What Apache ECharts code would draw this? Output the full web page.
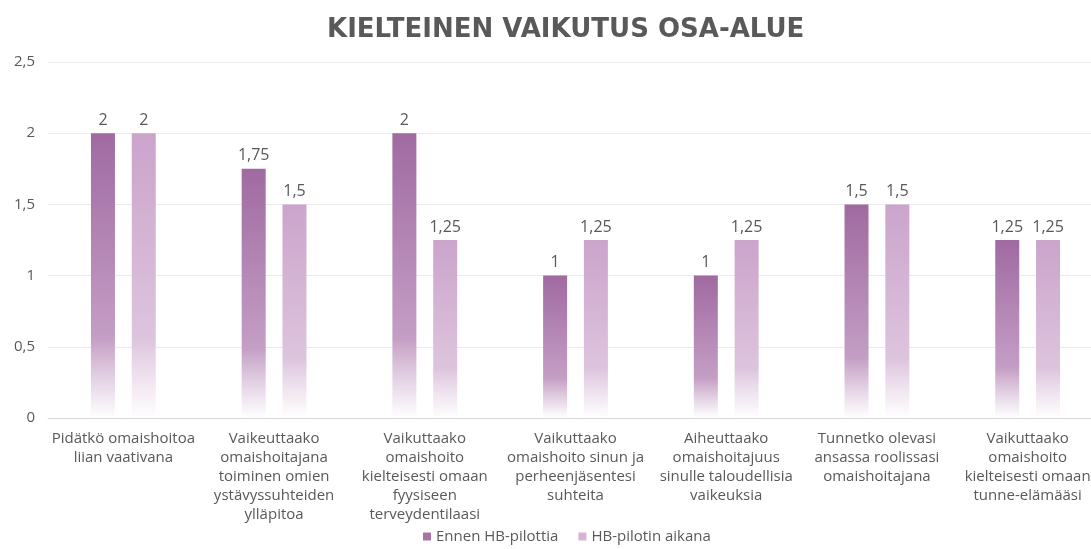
<!DOCTYPE html>
<html>
<head>
<meta charset="utf-8">
<script src="https://cdn.jsdelivr.net/npm/echarts@6/dist/echarts.min.js"></script>
<style>
  html, body { margin: 0; padding: 0; background: #fff; }
  #chart-container { width: 1091px; height: 549px; }
</style>
</head>
<body>
<div id="chart-container"></div>
<script>
var categories = [
  'Pidätkö omaishoitoa\nliian vaativana',
  'Vaikeuttaako\nomaishoitajana\ntoiminen omien\nystävyssuhteiden\nylläpitoa',
  'Vaikuttaako\nomaishoito\nkielteisesti omaan\nfyysiseen\nterveydentilaasi',
  'Vaikuttaako\nomaishoito sinun ja\nperheenjäsentesi\nsuhteita',
  'Aiheuttaako\nomaishoitajuus\nsinulle taloudellisia\nvaikeuksia',
  'Tunnetko olevasi\nansassa roolissasi\nomaishoitajana',
  'Vaikuttaako\nomaishoito\nkielteisesti omaan\ntunne-elämääsi'
];
var seriesNames = ['Ennen HB-pilottia', 'HB-pilotin aikana'];
var beforeValues = [2, 1.75, 2, 1, 1, 1.5, 1.25];
var duringValues = [2, 1.5, 1.25, 1.25, 1.25, 1.5, 1.25];

var dom = document.getElementById('chart-container');
var myChart = echarts.init(dom, null, { renderer: 'canvas' });

var textColor = '#595959';
var font = '"Open Sans", sans-serif';

function fade(top, mid) {
  return new echarts.graphic.LinearGradient(0, 0, 0, 1, [
    { offset: 0, color: top },
    { offset: 0.72, color: mid },
    { offset: 1, color: 'rgba(255,255,255,0.9)' }
  ]);
}

function fmt(v) {
  return String(v).replace('.', ',');
}

var option = {
  backgroundColor: '#fff',
  title: {
    text: 'KIELTEINEN VAIKUTUS OSA-ALUE',
    left: 322,
    top: 12,
    textStyle: { fontFamily: '"DejaVu Sans", sans-serif', fontWeight: 'bold', fontSize: 26, color: textColor }
  },
  legend: {
    bottom: 0,
    left: 418,
    itemWidth: 8,
    itemHeight: 8,
    itemGap: 20,
    icon: 'rect',
    textStyle: { fontFamily: font, fontSize: 15, color: textColor },
    data: [
      { name: seriesNames[0], itemStyle: { color: '#a874a8' } },
      { name: seriesNames[1], itemStyle: { color: '#d4b3d4' } }
    ]
  },
  grid: { left: 48, width: 1055, top: 62, bottom: 131, outerBoundsMode: 'none', containLabel: false },
  xAxis: {
    type: 'category',
    data: categories,
    axisTick: { show: false },
    axisLine: { lineStyle: { color: '#d9d9d9' } },
    axisLabel: {
      interval: 0,
      margin: 11,
      lineHeight: 19,
      fontFamily: font,
      fontSize: 15,
      color: textColor
    }
  },
  yAxis: {
    type: 'value',
    min: 0,
    max: 2.5,
    interval: 0.5,
    axisLine: { show: false },
    axisTick: { show: false },
    splitLine: { lineStyle: { color: '#ebebeb' } },
    axisLabel: {
      margin: 13,
      fontFamily: font,
      fontSize: 15,
      color: textColor,
      formatter: fmt
    }
  },
  series: [
    {
      name: seriesNames[0],
      type: 'bar',
      data: beforeValues,
      barWidth: 24,
      barGap: '70%',
      itemStyle: { color: fade('#a06aa1', '#c49ec5') },
      label: {
        show: true,
        position: 'top',
        distance: 5,
        fontFamily: font,
        fontSize: 16,
        color: textColor,
        formatter: function (p) { return fmt(p.value); }
      }
    },
    {
      name: seriesNames[1],
      type: 'bar',
      data: duringValues,
      barWidth: 24,
      barGap: '70%',
      itemStyle: { color: fade('#cba4cb', '#ddc4dd') },
      label: {
        show: true,
        position: 'top',
        distance: 5,
        fontFamily: font,
        fontSize: 16,
        color: textColor,
        formatter: function (p) { return fmt(p.value); }
      }
    }
  ]
};

myChart.setOption(option);
window.addEventListener('resize', myChart.resize);
</script>
</body>
</html>
